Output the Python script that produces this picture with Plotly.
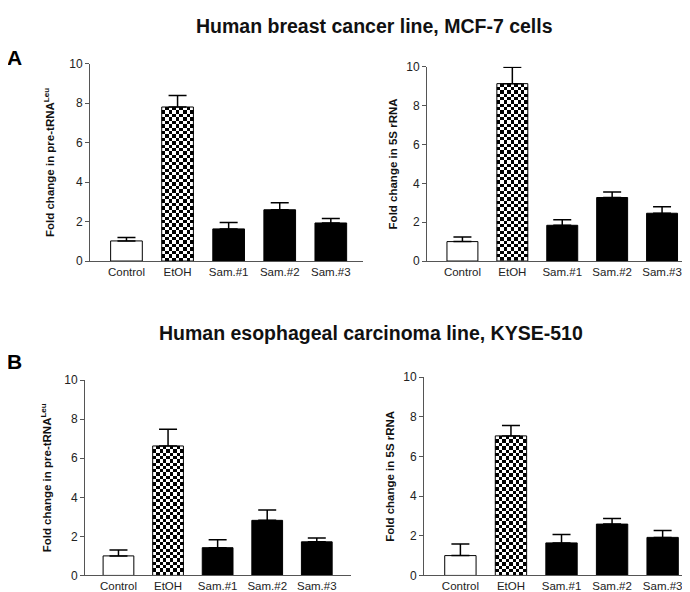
import numpy as np
import plotly.graph_objects as go

categories = ["Control", "EtOH", "Sam.#1", "Sam.#2", "Sam.#3"]

a_trna_vals = [1.02, 7.81, 1.63, 2.60, 1.93]
a_trna_err = [0.17, 0.58, 0.33, 0.35, 0.23]
a_5s_vals = [1.00, 9.13, 1.84, 3.27, 2.46]
a_5s_err = [0.24, 0.84, 0.29, 0.28, 0.34]
b_trna_vals = [1.00, 6.63, 1.42, 2.82, 1.72]
b_trna_err = [0.30, 0.85, 0.41, 0.53, 0.20]
b_5s_vals = [1.00, 7.04, 1.64, 2.59, 1.92]
b_5s_err = [0.58, 0.53, 0.43, 0.28, 0.35]

y_ticks = [0, 2, 4, 6, 8, 10]

title_a = "Human breast cancer line, MCF-7 cells"
title_b = "Human esophageal carcinoma line, KYSE-510"
ylab_trna = "Fold change in pre-tRNA<sup>Leu</sup>"
ylab_5s = "Fold change in 5S rRNA"

FONT = "Liberation Sans, Arial, sans-serif"
W, H = 690, 592
BAR_W = 0.62
CHECK_COLS = 9

bar_colors = ["white", "rgba(0,0,0,0)", "black", "black", "black"]
patterned = [False, True, False, False, False]

panels = [
    (a_trna_vals, a_trna_err, ylab_trna, (82, 355), (252, 50), (-0.714, 4.63), 12),
    (a_5s_vals, a_5s_err, ylab_5s, (419, 685), (252, 53), (-0.71, 4.62), 6),
    (b_trna_vals, b_trna_err, ylab_trna, (77, 343), (574, 374), (-0.675, 4.69), 10),
    (b_5s_vals, b_5s_err, ylab_5s, (416, 688), (574, 371), (-0.72, 4.66), 6),
]

fig = go.Figure()
layout = dict(
    width=W, height=H, margin=dict(l=0, r=0, t=0, b=0),
    paper_bgcolor="white", plot_bgcolor="white",
    showlegend=False, font=dict(family=FONT, color="#222"),
    barmode="overlay",
)

for i, (vals, errs, ylab, xd, yd, xr, so) in enumerate(panels, start=1):
    xa = "x" if i == 1 else f"x{i}"
    ya = "y" if i == 1 else f"y{i}"
    # pixel scale of this panel, used to keep checker squares square
    px_per_x = (xd[1] - xd[0]) / (xr[1] - xr[0])
    px_per_y = (yd[0] - yd[1]) / 10.0
    for j, cat in enumerate(categories):
        if patterned[j]:
            cell_px = BAR_W / CHECK_COLS * px_per_x
            nrows = max(1, int(round(vals[j] * px_per_y / cell_px)))
            xe = np.linspace(j - BAR_W / 2, j + BAR_W / 2, CHECK_COLS + 1)
            ye = np.linspace(0, vals[j], nrows + 1)
            z = (np.add.outer(np.arange(nrows), np.arange(CHECK_COLS)) % 2)
            fig.add_trace(go.Heatmap(
                x=xe, y=ye, z=z, xaxis=xa, yaxis=ya,
                colorscale=[[0, "white"], [1, "black"]], showscale=False,
                zsmooth=False, hoverinfo="skip",
            ))
        fig.add_trace(go.Bar(
            x=[j], y=[vals[j]], width=BAR_W,
            xaxis=xa, yaxis=ya,
            marker=dict(color=bar_colors[j], line=dict(color="black", width=1)),
            error_y=dict(type="data", symmetric=False, array=[errs[j]],
                         arrayminus=[0], color="black", thickness=1.5, width=9),
        ))
    xkey = "xaxis" if i == 1 else f"xaxis{i}"
    ykey = "yaxis" if i == 1 else f"yaxis{i}"
    layout[xkey] = dict(
        domain=[xd[0] / W, xd[1] / W], anchor=ya, range=list(xr),
        tickmode="array", tickvals=list(range(len(categories))), ticktext=categories,
        showline=True, linecolor="#555", linewidth=1, ticks="",
        showgrid=False, zeroline=False, tickfont=dict(size=11.5, color="#222"),
    )
    layout[ykey] = dict(
        domain=[1 - yd[0] / H, 1 - yd[1] / H], anchor=xa, range=[0, 10],
        tickmode="array", tickvals=y_ticks,
        showline=True, linecolor="#555", linewidth=1,
        ticks="outside", ticklen=4, tickcolor="#555",
        showgrid=False, zeroline=False, tickfont=dict(size=12, color="#222"),
        title=dict(text="<b>" + ylab + "</b>", font=dict(size=11.5, color="#111"),
                   standoff=so),
    )

fig.update_layout(**layout)

fig.add_annotation(x=366 / W, y=1 - 11 / H, xref="paper", yref="paper",
                   text="<b>" + title_a + "</b>", showarrow=False,
                   font=dict(size=19.5, color="#111"), xanchor="center", yanchor="middle")
fig.add_annotation(x=363 / W, y=1 - 326 / H, xref="paper", yref="paper",
                   text="<b>" + title_b + "</b>", showarrow=False,
                   font=dict(size=19.5, color="#111"), xanchor="center", yanchor="middle")
fig.add_annotation(x=0, y=1 - 44 / H, xref="paper", yref="paper", xshift=-3,
                   text="<b>A</b>", showarrow=False,
                   font=dict(size=21, color="black"), xanchor="left", yanchor="middle")
fig.add_annotation(x=0, y=1 - 355 / H, xref="paper", yref="paper", xshift=-3,
                   text="<b>B</b>", showarrow=False,
                   font=dict(size=21, color="black"), xanchor="left", yanchor="middle")

fig.write_html("out.html")
